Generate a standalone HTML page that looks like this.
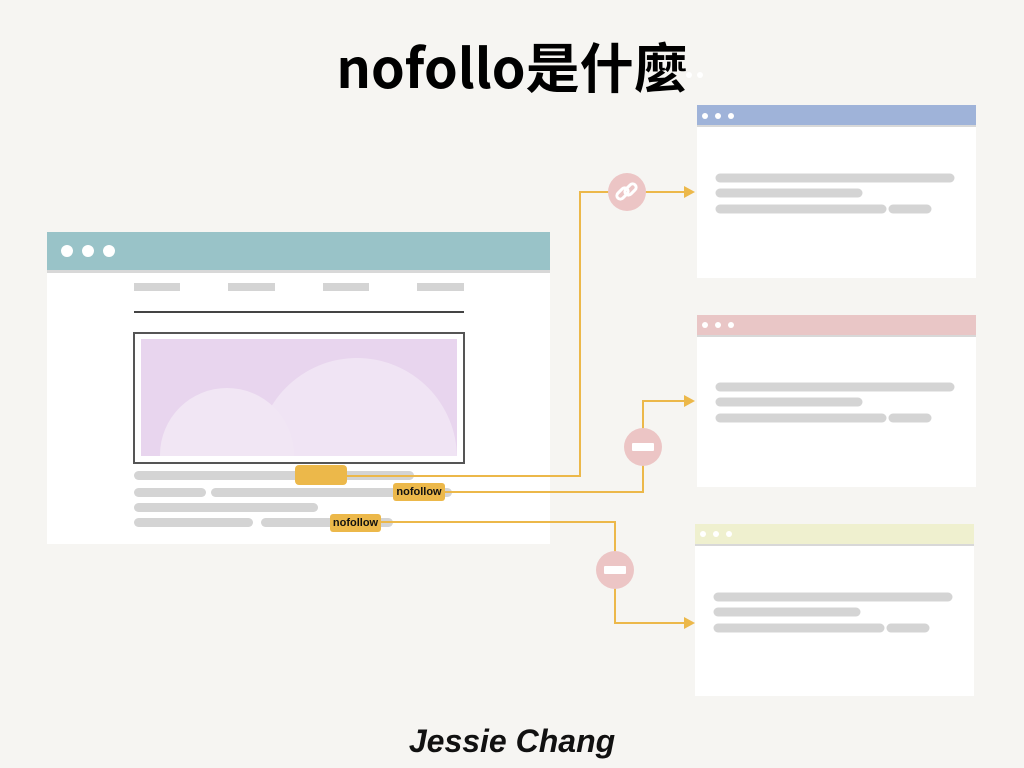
<!DOCTYPE html>
<html><head><meta charset="utf-8"><style>
body{margin:0;width:1024px;height:768px;background:#f6f5f2;position:relative;overflow:hidden;font-family:"Liberation Sans","Noto Sans CJK TC",sans-serif}
.a{position:absolute}
.g{position:absolute;background:#d4d4d4;border-radius:5px;height:9px}
.tag{position:absolute;background:#ecb84a;border-radius:3px;font-size:11px;font-weight:bold;color:#111;text-align:center;line-height:18px}
</style></head><body>
<div class="a" style="left:0;width:1024px;top:28px;text-align:center;font-size:54px;font-weight:bold;line-height:74px;color:#000;font-family:'Noto Sans CJK TC',sans-serif">nofollo是什麼</div>

<!-- left browser -->
<div class="a" style="left:47px;top:232px;width:503px;height:312px;background:#fff"></div>
<div class="a" style="left:47px;top:232px;width:503px;height:38px;background:#99c3c8;border-bottom:3px solid #d8d8d8"></div>
<div class="a" style="left:61px;top:245px;width:12px;height:12px;border-radius:50%;background:#fff"></div>
<div class="a" style="left:82px;top:245px;width:12px;height:12px;border-radius:50%;background:#fff"></div>
<div class="a" style="left:103px;top:245px;width:12px;height:12px;border-radius:50%;background:#fff"></div>
<div class="a" style="left:134px;top:283px;width:46px;height:8px;background:#d4d4d4"></div>
<div class="a" style="left:228px;top:283px;width:47px;height:8px;background:#d4d4d4"></div>
<div class="a" style="left:323px;top:283px;width:46px;height:8px;background:#d4d4d4"></div>
<div class="a" style="left:417px;top:283px;width:47px;height:8px;background:#d4d4d4"></div>
<div class="a" style="left:134px;top:311px;width:330px;height:2px;background:#444"></div>
<div class="a" style="left:133px;top:332px;width:328px;height:128px;border:2px solid #555;background:#fff"></div>
<svg class="a" style="left:141px;top:339px" width="316" height="117">
<defs><clipPath id="c"><rect width="316" height="117"/></clipPath></defs>
<rect width="316" height="117" fill="#e8d5ee"/>
<g clip-path="url(#c)">
<circle cx="86" cy="116" r="67" fill="#f1e6f4"/>
<circle cx="216" cy="119" r="100" fill="#f1e6f4" opacity="0.9"/>
</g></svg>
<div class="g" style="left:134px;top:471px;width:280px"></div>
<div class="g" style="left:134px;top:488px;width:72px"></div>
<div class="g" style="left:211px;top:488px;width:241px"></div>
<div class="g" style="left:134px;top:503px;width:184px"></div>
<div class="g" style="left:134px;top:518px;width:119px"></div>
<div class="g" style="left:261px;top:518px;width:132px"></div>

<!-- right boxes -->
<div class="a" style="left:697px;top:105px;width:279px;height:173px;background:#fff"></div>
<div class="a" style="left:697px;top:105px;width:279px;height:20px;background:#9fb3d9;border-bottom:2px solid #d8d8d8"></div>
<div class="a" style="left:697px;top:315px;width:279px;height:172px;background:#fff"></div>
<div class="a" style="left:697px;top:315px;width:279px;height:20px;background:#e9c6c6;border-bottom:2px solid #d8d8d8"></div>
<div class="a" style="left:695px;top:524px;width:279px;height:172px;background:#fff"></div>
<div class="a" style="left:695px;top:524px;width:279px;height:20px;background:#eff0cf;border-bottom:2px solid #d8d8d8"></div>
<svg class="a" style="left:0;top:0" width="1024" height="768">
<g fill="#fff">
<circle cx="705" cy="116" r="3"/><circle cx="718" cy="116" r="3"/><circle cx="731" cy="116" r="3"/>
<circle cx="705" cy="325" r="3"/><circle cx="718" cy="325" r="3"/><circle cx="731" cy="325" r="3"/>
<circle cx="703" cy="534" r="3"/><circle cx="716" cy="534" r="3"/><circle cx="729" cy="534" r="3"/>
<circle cx="689" cy="75" r="3"/><circle cx="700" cy="75" r="3"/>
</g>
<g stroke="#d4d4d4" stroke-width="9" stroke-linecap="round">
<line x1="720" y1="178" x2="950" y2="178"/><line x1="720" y1="193" x2="858" y2="193"/><line x1="720" y1="209" x2="882" y2="209"/><line x1="893" y1="209" x2="927" y2="209"/>
<line x1="720" y1="387" x2="950" y2="387"/><line x1="720" y1="402" x2="858" y2="402"/><line x1="720" y1="418" x2="882" y2="418"/><line x1="893" y1="418" x2="927" y2="418"/>
<line x1="718" y1="597" x2="948" y2="597"/><line x1="718" y1="612" x2="856" y2="612"/><line x1="718" y1="628" x2="880" y2="628"/><line x1="891" y1="628" x2="925" y2="628"/>
</g>
<g stroke="#ecb84a" stroke-width="2" fill="none">
<polyline points="347,476 580,476 580,192 688,192"/>
<polyline points="445,492 643,492 643,401 688,401"/>
<polyline points="381,522 615,522 615,623 688,623"/>
</g>
<g fill="#ecb84a">
<polygon points="695,192 684,186 684,198"/>
<polygon points="695,401 684,395 684,407"/>
<polygon points="695,623 684,617 684,629"/>
</g>
<g fill="#ecc5c5">
<circle cx="627" cy="192" r="19"/><circle cx="643" cy="447" r="19"/><circle cx="615" cy="570" r="19"/>
</g>
<g fill="#fff">
<rect x="632" y="443" width="22" height="8" rx="1"/><rect x="604" y="566" width="22" height="8" rx="1"/>
</g>
<g stroke="#fff" stroke-width="3" fill="none" stroke-linecap="round">
<rect x="616" y="190" width="13" height="7" rx="3.5" transform="rotate(-45 622.5 193.5)"/>
<rect x="624" y="186" width="13" height="7" rx="3.5" transform="rotate(-45 630.5 189.5)"/>
</g>
</svg>
<div class="tag" style="left:295px;top:465px;width:52px;height:20px;border-radius:4px"></div>
<div class="tag" style="left:393px;top:483px;width:52px;height:18px">nofollow</div>
<div class="tag" style="left:330px;top:514px;width:51px;height:18px">nofollow</div>

<div class="a" style="left:0;width:1024px;top:720px;text-align:center;font-size:32px;font-weight:bold;font-style:italic;color:#111;line-height:42px">Jessie Chang</div>
</body></html>
